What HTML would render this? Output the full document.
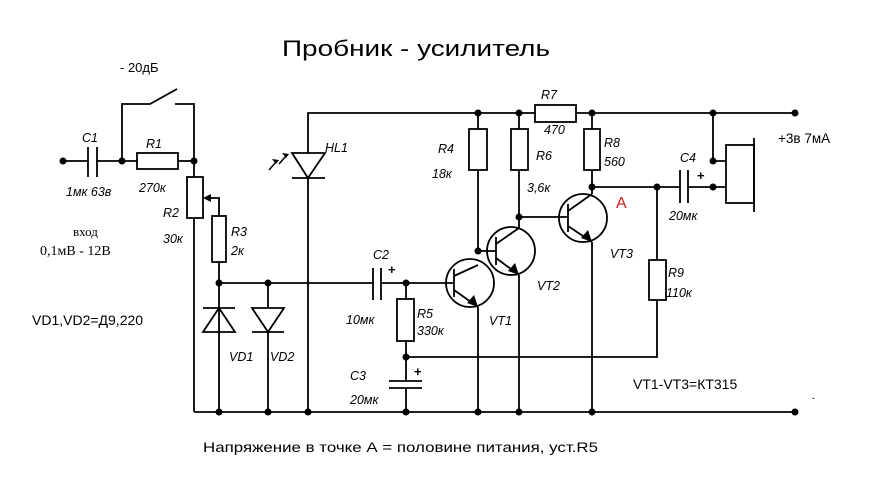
<!DOCTYPE html>
<html><head><meta charset="utf-8"><style>
html,body{margin:0;padding:0;background:#fff;}
svg{display:block;}
text{font-family:"Liberation Sans","Noto Sans CJK SC",sans-serif;fill:#000;}
.l{font-size:12.5px;font-style:italic;}
</style></head><body>
<svg width="880" height="480" viewBox="0 0 880 480" xmlns="http://www.w3.org/2000/svg">
<g stroke="#000" stroke-width="1.8" fill="none">
<line x1="63" y1="161" x2="88" y2="161"/>
<line x1="97" y1="161" x2="137" y2="161"/>
<line x1="88" y1="147" x2="88" y2="177"/><line x1="97" y1="147" x2="97" y2="177"/>
<rect x="137" y="153" width="41" height="16"/>
<line x1="178" y1="161" x2="194" y2="161"/>
<polyline points="122,161 122,104 150,104 177,89"/>
<polyline points="175,104 194,104 194,161"/>
<line x1="194" y1="161" x2="194" y2="412"/>
<rect x="187" y="177" width="16" height="41" fill="#fff"/>
<polyline points="209,198 219,198 219,216"/>
<rect x="212" y="216" width="14" height="46"/>
<line x1="219" y1="262" x2="219" y2="412"/>
<line x1="219" y1="283" x2="373" y2="283"/>
<line x1="381" y1="283" x2="454" y2="283"/>
<line x1="373" y1="268" x2="373" y2="300"/><line x1="381" y1="268" x2="381" y2="300"/>
<line x1="203" y1="308" x2="235" y2="308"/>
<polygon points="219,308 203,332 235,332"/>
<line x1="268" y1="283" x2="268" y2="412"/>
<polygon points="252,308 284,308 268,332" fill="#fff"/>
<line x1="252" y1="332" x2="284" y2="332"/>
<polyline points="795,113 308,113 308,412"/>
<polygon points="292,153 325,153 308,178" fill="#fff"/>
<line x1="292" y1="178" x2="325" y2="178"/>
<line x1="194" y1="412" x2="795" y2="412"/>
<rect x="535" y="105" width="41" height="17" fill="#fff"/>
<line x1="478" y1="113" x2="478" y2="251"/>
<rect x="469" y="129" width="18" height="41" fill="#fff"/>
<line x1="519" y1="113" x2="519" y2="228"/>
<rect x="511" y="129" width="17" height="41" fill="#fff"/>
<line x1="592" y1="113" x2="592" y2="194"/>
<rect x="584" y="129" width="16" height="41" fill="#fff"/>
<circle cx="583" cy="218" r="24"/>
<line x1="519" y1="217" x2="568" y2="217"/>
<line x1="568" y1="204" x2="568" y2="232"/>
<line x1="568" y1="211" x2="592" y2="194"/>
<line x1="568" y1="226" x2="592" y2="242"/>
<line x1="592" y1="242" x2="592" y2="412"/>
<circle cx="511" cy="251" r="24"/>
<line x1="478" y1="251" x2="496" y2="251"/>
<line x1="496" y1="237" x2="496" y2="265"/>
<line x1="496" y1="244" x2="519" y2="228"/>
<line x1="496" y1="258" x2="519" y2="275"/>
<line x1="519" y1="275" x2="519" y2="412"/>
<circle cx="470" cy="283" r="24"/>
<line x1="454" y1="269" x2="454" y2="297"/>
<line x1="454" y1="276" x2="478" y2="265"/>
<line x1="454" y1="290" x2="478" y2="307"/>
<line x1="478" y1="307" x2="478" y2="412"/>
<line x1="406" y1="283" x2="406" y2="381"/>
<rect x="397" y="299" width="17" height="42" fill="#fff"/>
<line x1="389" y1="381" x2="422" y2="381"/>
<line x1="389" y1="388" x2="422" y2="388"/>
<line x1="406" y1="388" x2="406" y2="412"/>
<polyline points="406,357 657,357 657,187"/>
<rect x="649" y="260" width="17" height="40" fill="#fff"/>
<line x1="592" y1="187" x2="680" y2="187"/>
<line x1="688" y1="187" x2="726" y2="187"/>
<line x1="680" y1="170" x2="680" y2="203"/><line x1="688" y1="170" x2="688" y2="203"/>
<polyline points="713,113 713,161 726,161"/>
<rect x="726" y="145" width="28" height="58"/>
<line x1="754" y1="138" x2="754" y2="212"/>
</g>
<g fill="#000">
<polygon points="203,198 211,194 211,202"/>
<polygon points="592,242 581,238 588,230"/>
<polygon points="519,275 508,271 515,263"/>
<polygon points="478,307 467,303 474,295"/>
<polygon points="276,164 272,159 279,160"/>
<polygon points="286,158 282,153 289,154"/>
</g>
<g stroke="#000" stroke-width="1.5"><line x1="269" y1="170" x2="276" y2="162"/><line x1="279" y1="164" x2="286" y2="156"/></g>
<g fill="#000">
<circle cx="63" cy="161" r="3.5"/><circle cx="122" cy="161" r="3.5"/><circle cx="194" cy="161" r="3.5"/>
<circle cx="219" cy="283" r="3.5"/><circle cx="268" cy="283" r="3.5"/>
<circle cx="219" cy="412" r="3.5"/><circle cx="268" cy="412" r="3.5"/><circle cx="308" cy="412" r="3.5"/>
<circle cx="406" cy="412" r="3.5"/><circle cx="478" cy="412" r="3.5"/><circle cx="519" cy="412" r="3.5"/><circle cx="592" cy="412" r="3.5"/><circle cx="795" cy="412" r="3.5"/>
<circle cx="478" cy="113" r="3.5"/><circle cx="519" cy="113" r="3.5"/><circle cx="592" cy="113" r="3.5"/><circle cx="713" cy="113" r="3.5"/><circle cx="795" cy="113" r="3.5"/>
<circle cx="592" cy="187" r="3.5"/><circle cx="657" cy="187" r="3.5"/><circle cx="713" cy="161" r="3.5"/><circle cx="713" cy="187" r="3.5"/>
<circle cx="519" cy="217" r="3.5"/><circle cx="478" cy="251" r="3.5"/><circle cx="406" cy="283" r="3.5"/><circle cx="406" cy="357" r="3.5"/>
</g>
<text x="282" y="56" font-size="22" textLength="268" lengthAdjust="spacingAndGlyphs">Пробник - усилитель</text>
<text x="120" y="72" font-size="13">- 20дБ</text>
<text class="l" x="82" y="142">C1</text>
<text class="l" x="66" y="196">1мк 63в</text>
<text class="l" x="146" y="148">R1</text>
<text class="l" x="139" y="192">270к</text>
<text class="l" x="163" y="217">R2</text>
<text class="l" x="163" y="243">30к</text>
<text class="l" x="231" y="236">R3</text>
<text class="l" x="231" y="255">2к</text>
<text x="73" y="236" font-size="13" style="font-family:'Liberation Serif',serif">вход</text>
<text x="40" y="255" font-size="14" style="font-family:'Liberation Serif',serif">0,1мВ - 12В</text>
<text x="32" y="325" font-size="14">VD1,VD2=Д9,220</text>
<text class="l" x="229" y="361">VD1</text>
<text class="l" x="270" y="361">VD2</text>
<text class="l" x="325" y="152">HL1</text>
<text class="l" x="373" y="259">C2</text>
<text x="388" y="274" font-size="13" font-weight="bold">+</text>
<text class="l" x="346" y="324">10мк</text>
<text class="l" x="417" y="318">R5</text>
<text class="l" x="417" y="335">330к</text>
<text class="l" x="350" y="380">C3</text>
<text class="l" x="350" y="404">20мк</text>
<text x="414" y="376" font-size="13" font-weight="bold">+</text>
<text class="l" x="438" y="153">R4</text>
<text class="l" x="432" y="178">18к</text>
<text class="l" x="536" y="160">R6</text>
<text class="l" x="527" y="192">3,6к</text>
<text class="l" x="541" y="99">R7</text>
<text class="l" x="544" y="134">470</text>
<text class="l" x="604" y="147">R8</text>
<text class="l" x="604" y="166">560</text>
<text x="616" y="208" font-size="16" style="fill:#d02020">A</text>
<text class="l" x="489" y="325">VT1</text>
<text class="l" x="537" y="290">VT2</text>
<text class="l" x="610" y="258">VT3</text>
<text class="l" x="680" y="162">C4</text>
<text x="697" y="180" font-size="13" font-weight="bold">+</text>
<text class="l" x="669" y="220">20мк</text>
<text class="l" x="668" y="277">R9</text>
<text class="l" x="666" y="297">110к</text>
<text x="778" y="143" font-size="13.5">+3в  7мА</text>
<text x="633" y="389" font-size="14">VT1-VT3=КТ315</text>
<text x="812" y="401" font-size="9">-</text>
<text x="203" y="452" font-size="14" textLength="395" lengthAdjust="spacingAndGlyphs">Напряжение в точке А = половине питания, уст.R5</text>
</svg>
</body></html>
